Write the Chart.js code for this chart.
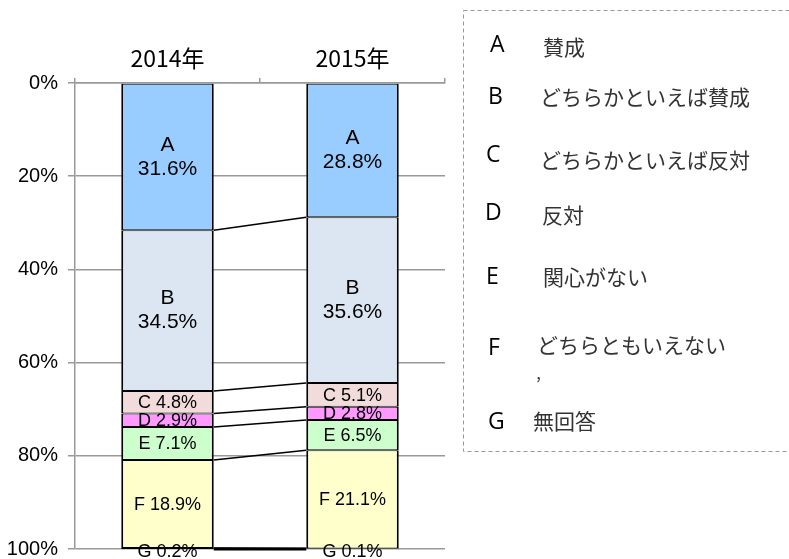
<!DOCTYPE html>
<html lang="ja">
<head>
<meta charset="utf-8">
<script src="https://cdn.jsdelivr.net/npm/chart.js@4/dist/chart.umd.min.js"></script>
<style>
  body { margin: 0; background: #fff; }
  canvas { display: block; }
</style>
</head>
<body>
<canvas id="grafico" width="789" height="559"></canvas>
<script>
// 年ごとの回答割合（%）
const anios = ['2014年', '2015年'];
const claves = ['A', 'B', 'C', 'D', 'E', 'F', 'G'];
const respuestas = ['賛成', 'どちらかといえば賛成', 'どちらかといえば反対', '反対', '関心がない', 'どちらともいえない', '無回答'];
const valoresA = [31.6, 28.8];
const valoresB = [34.5, 35.6];
const valoresC = [4.8, 5.1];
const valoresD = [2.9, 2.8];
const valoresE = [7.1, 6.5];
const valoresF = [18.9, 21.1];
const valoresG = [0.2, 0.1];
const ticksY = [0, 20, 40, 60, 80, 100];

const colores = ['#99CCFF', '#DCE6F2', '#F2DCDB', '#FF99FF', '#CCFFCC', '#FFFFCC', '#D9D9D9'];
const series = [valoresA, valoresB, valoresC, valoresD, valoresE, valoresF, valoresG];

const fuente = "Arial, 'Liberation Sans', sans-serif";

// líneas que unen los límites de cada segmento entre las dos barras
const lineasUnion = {
    id: 'lineasUnion',
    afterDatasetsDraw(chart) {
        const ctx = chart.ctx;
        const y = chart.scales.y;
        const total = chart.data.datasets.length;
        let suma0 = 0, suma1 = 0;
        ctx.save();
        ctx.strokeStyle = '#000';
        chart.data.datasets.forEach((ds, i) => {
            suma0 += ds.data[0];
            suma1 += ds.data[1];
            const meta = chart.getDatasetMeta(i);
            const b0 = meta.data[0], b1 = meta.data[1];
            ctx.lineWidth = i === total - 1 ? 3 : 1.5;
            ctx.beginPath();
            ctx.moveTo(b0.x + b0.width / 2, y.getPixelForValue(Math.min(suma0, 100)));
            ctx.lineTo(b1.x - b1.width / 2, y.getPixelForValue(Math.min(suma1, 100)));
            ctx.stroke();
        });
        ctx.restore();
    }
};

// etiquetas dentro de cada segmento
const etiquetas = {
    id: 'etiquetas',
    afterDatasetsDraw(chart) {
        const ctx = chart.ctx;
        ctx.save();
        ctx.fillStyle = '#000';
        ctx.textAlign = 'center';
        ctx.textBaseline = 'middle';
        chart.data.datasets.forEach((ds, i) => {
            const meta = chart.getDatasetMeta(i);
            meta.data.forEach((barra, j) => {
                const cy = (barra.y + barra.base) / 2;
                const texto = ds.data[j].toFixed(1) + '%';
                if (i < 2) {
                    ctx.font = '21px ' + fuente;
                    ctx.fillText(claves[i], barra.x, cy - 12);
                    ctx.fillText(texto, barra.x, cy + 12);
                } else {
                    ctx.font = '18px ' + fuente;
                    ctx.fillText(claves[i] + ' ' + texto, barra.x, cy + (i === 6 ? 3 : 1));
                }
            });
        });
        ctx.restore();
    }
};

// recuadro de leyenda a la derecha
const leyenda = {
    id: 'leyenda',
    afterDraw(chart) {
        const ctx = chart.ctx;
        const yClave = [45, 97, 155, 213, 277, 348, 422];
        const xClave = [490, 488, 486, 485, 486, 488, 488];
        const yTexto = [47, 97, 160, 215, 277, 345, 421];
        const xTexto = [543, 540, 540, 542, 543, 537, 533];
        ctx.save();
        ctx.strokeStyle = '#999';
        ctx.lineWidth = 1;
        ctx.setLineDash([4, 3]);
        ctx.strokeRect(463.5, 10.5, 340, 441);
        ctx.setLineDash([]);
        ctx.textAlign = 'left';
        ctx.textBaseline = 'middle';
        claves.forEach((c, i) => {
            ctx.fillStyle = '#000';
            ctx.font = "23px 'Open Sans', 'Noto Sans', sans-serif";
            ctx.fillText(c, xClave[i], yClave[i]);
            ctx.fillStyle = '#333';
            ctx.font = "21px 'Noto Sans CJK JP', sans-serif";
            ctx.fillText(respuestas[i], xTexto[i], yTexto[i]);
        });
        ctx.font = "18px 'Noto Sans CJK JP', sans-serif";
        ctx.fillText('’', 536, 384);
        ctx.restore();
    }
};

const ctx = document.getElementById('grafico').getContext('2d');
new Chart(ctx, {
    type: 'bar',
    data: {
        labels: anios,
        datasets: series.map((valores, i) => ({
            label: claves[i],
            data: valores,
            backgroundColor: colores[i],
            borderColor: '#000',
            borderWidth: { left: 2, right: 2, top: 1, bottom: 1 },
            borderSkipped: false,
            barPercentage: 0.5,
            categoryPercentage: 1
        }))
    },
    options: {
        responsive: false,
        animation: false,
        layout: { padding: { left: 0, right: 344, top: 0, bottom: 10 } },
        plugins: {
            legend: { display: false },
            tooltip: { enabled: false }
        },
        scales: {
            x: {
                position: 'top',
                stacked: true,
                grid: { drawOnChartArea: false, tickLength: 5, color: '#999', lineWidth: 1.5, offset: true },
                border: { color: '#999', width: 1.5 },
                ticks: {
                    color: '#000',
                    padding: 6,
                    font: { family: "'Liberation Sans Narrow', 'Noto Sans CJK JP', sans-serif", size: 23 }
                },
                afterFit(scale) { scale.height = 83; }
            },
            y: {
                stacked: true,
                reverse: true,
                min: 0,
                max: 100,
                afterBuildTicks(scale) { scale.ticks = ticksY.map(v => ({ value: v })); },
                ticks: {
                    color: '#000',
                    padding: 10,
                    font: { family: fuente, size: 20 },
                    callback: v => v + '%'
                },
                grid: { color: '#999', lineWidth: 1.5, tickLength: 7 },
                border: { color: '#999', width: 1.5 },
                afterFit(scale) {
                    // el 100% queda pegado al borde inferior
                    scale.width = 75;
                    scale.paddingTop = 0;
                    scale.paddingBottom = 0;
                }
            }
        }
    },
    plugins: [lineasUnion, etiquetas, leyenda]
});
</script>
</body>
</html>
